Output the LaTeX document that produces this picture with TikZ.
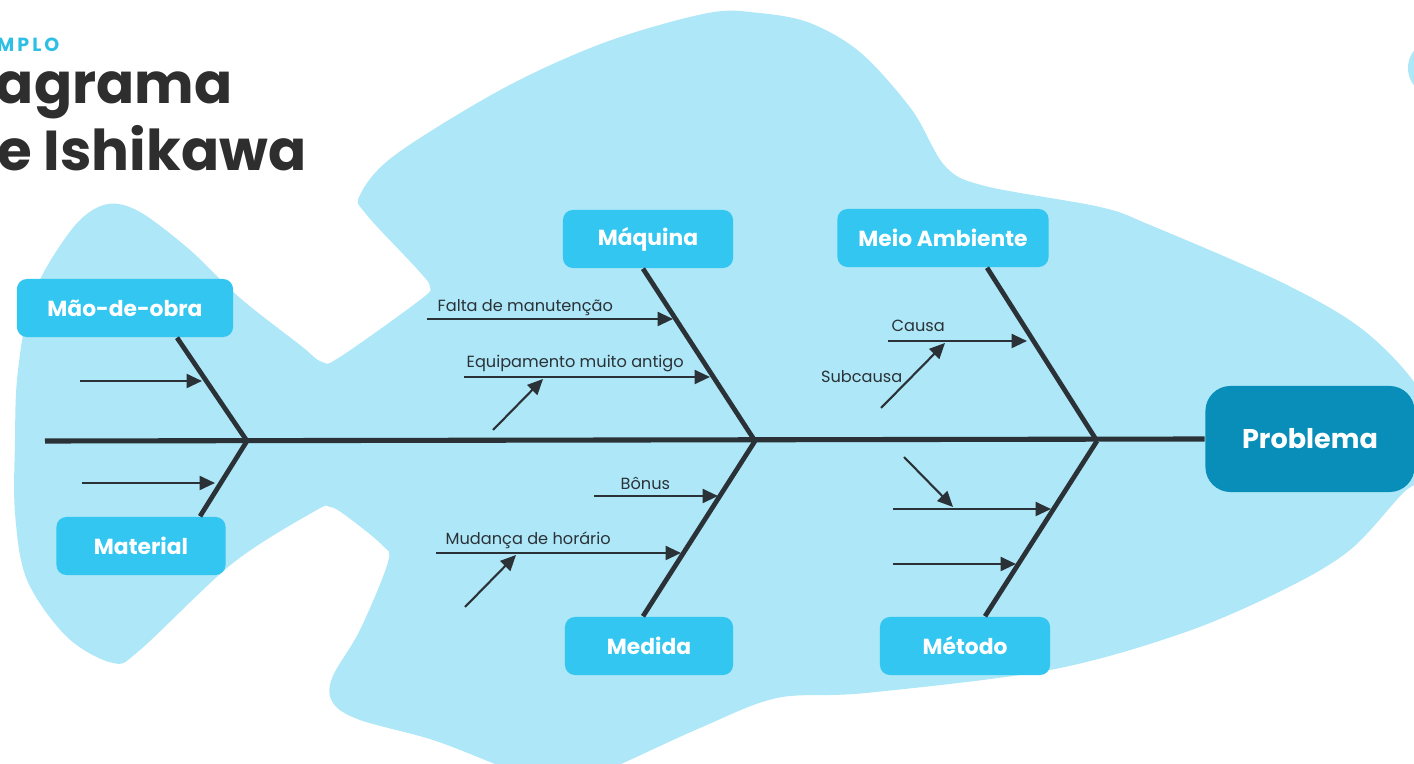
\documentclass[tikz,border=0pt]{standalone}
\usepackage{fontspec}
\setmainfont{Poppins}
\usetikzlibrary{arrows.meta}
\definecolor{fishblue}{HTML}{AEE7F7}
\definecolor{boxblue}{HTML}{32C6F0}
\definecolor{probblue}{HTML}{088EB8}
\definecolor{ink}{HTML}{2A3238}
\definecolor{titledark}{HTML}{2E2E2E}
\definecolor{titlecyan}{HTML}{2EBFE5}
\begin{document}
\begin{tikzpicture}[x=0.01cm, y=-0.01cm,
  box/.style={fill=boxblue, rounded corners=0.1cm, text=white, font=\bfseries\fontsize{6.2}{7}\selectfont, minimum height=0.58cm},
  bone/.style={draw=ink, line width=1.35pt},
  cause/.style={draw=ink, line width=0.6pt, -{Triangle[length=4.4pt,width=4pt]}},
  lbl/.style={text=ink, font=\fontsize{4.6}{5}\selectfont, inner sep=0pt}]
\useasboundingbox (0,0) rectangle (1414,764);
\clip (0,0) rectangle (1414,764);
% fish
\fill[fishblue] plot[smooth cycle, tension=0.55] coordinates {
  (15,440) (17,380) (27,315) (45,270) (78,222) (108,204) (140,212) (190,250)
  (240,298) (300,345) (322,362) (340,357) (420,300) (430,287) (418,270)
  (366,214) (360,195) (395,155) (504,88) (606,42) (708,13) (759,13) (810,23)
  (861,53) (912,110) (945,166) (985,186) (1100,207) (1150,225) (1283,283)
  (1367,333) (1425,400) (1430,470) (1403,493) (1350,550) (1283,590) (1183,633)
  (1050,670) (866,693) (777,698) (700,728) (621,764) (560,790) (500,766)
  (433,740) (360,720) (333,703) (332,678) (360,630) (388,562) (382,545)
  (345,515) (330,507) (315,511) (233,563) (140,650) (113,663) (67,637)
  (27,580) (15,513)};
\fill[fishblue] (1440,68) ellipse [x radius=0.32cm, y radius=0.3cm];
% title
\node[anchor=base east, inner sep=0pt, text=titlecyan, font=\bfseries\fontsize{5.4}{6}\selectfont\addfontfeatures{LetterSpace=16}] (kicker) at (60,52) {EXEMPLO};
\node[anchor=base east, inner sep=0pt, text=titledark, font=\bfseries\fontsize{16}{17}\selectfont] (title1) at (233,104) {Diagrama};
\node[anchor=base east, inner sep=0pt, text=titledark, font=\bfseries\fontsize{16}{17}\selectfont] (title2) at (307,171) {de Ishikawa};
% boxes
\node[box, minimum width=2.16cm] (mao) at (125,308) {Mão-de-obra};
\node[box, minimum width=1.69cm] (material) at (141,546) {Material};
\node[box, minimum width=1.70cm] (maquina) at (648,239) {Máquina};
\node[box, minimum width=2.11cm] (meio) at (943,238) {Meio Ambiente};
\node[box, minimum width=1.68cm] (medida) at (649,646) {Medida};
\node[box, minimum width=1.70cm] (metodo) at (965,646) {Método};
\node[fill=probblue, rounded corners=0.25cm, text=white, font=\bfseries\fontsize{7.7}{8}\selectfont, minimum width=2.09cm, minimum height=1.06cm] (problema) at (1310,439) {Problema};
% spine and bones
\coordinate (tail) at (45,441);
\coordinate (j1) at (247,441);
\coordinate (j2) at (755,441);
\coordinate (j3) at (1097,441);
\draw[bone, line width=1.45pt] (tail) -- (problema.west);
\draw[bone] (j1) -- ([xshift=0.52cm]mao.south);
\draw[bone] (j1) -- ([xshift=0.59cm]material.north);
\draw[bone] (j2) -- ([xshift=-0.05cm]maquina.south);
\draw[bone] (j2) -- ([xshift=-0.06cm]medida.north);
\draw[bone] (j3) -- ([xshift=0.44cm]meio.south);
\draw[bone] (j3) -- ([xshift=0.2cm]metodo.north);
% causes
\coordinate (a0) at (80,381);   \coordinate (a1) at (202,381);
\coordinate (b0) at (82,483);   \coordinate (b1) at (215,483);
\coordinate (c0) at (427,319);  \coordinate (c1) at (673,319);
\coordinate (d0) at (464,377);  \coordinate (d1) at (710,377);
\coordinate (d2) at (493,430);  \coordinate (d3) at (543,379);
\coordinate (e0) at (594,496);  \coordinate (e1) at (718,496);
\coordinate (f0) at (436,553);  \coordinate (f1) at (681,553);
\coordinate (f2) at (465,607);  \coordinate (f3) at (516,555);
\coordinate (g0) at (888,341);  \coordinate (g1) at (1027,341);
\coordinate (g2) at (881,408);  \coordinate (g3) at (945,343);
\coordinate (h0) at (893,509);  \coordinate (h1) at (1051,509);
\coordinate (h2) at (904,457);  \coordinate (h3) at (953,507);
\coordinate (k0) at (893,564);  \coordinate (k1) at (1016,564);
\draw[cause] (a0) -- (a1);
\draw[cause] (b0) -- (b1);
\draw[cause] (c0) -- (c1);
\draw[cause] (d0) -- (d1);
\draw[cause] (d2) -- (d3);
\draw[cause] (e0) -- (e1);
\draw[cause] (f0) -- (f1);
\draw[cause] (f2) -- (f3);
\draw[cause] (g0) -- (g1);
\draw[cause] (g2) -- (g3);
\draw[cause] (h0) -- (h1);
\draw[cause] (h2) -- (h3);
\draw[cause] (k0) -- (k1);
% labels
\node[lbl, anchor=base west] (lfalta) at (437,312) {Falta de manutenção};
\node[lbl, anchor=base west] (lequip) at (466,368) {Equipamento muito antigo};
\node[lbl, anchor=base west] (lbonus) at (620,490) {Bônus};
\node[lbl, anchor=base west] (lmud) at (445,545) {Mudança de horário};
\node[lbl, anchor=base west] (lcausa) at (891,332) {Causa};
\node[lbl, anchor=base east] (lsub) at (903,383) {Subcausa};
\end{tikzpicture}
\end{document}
